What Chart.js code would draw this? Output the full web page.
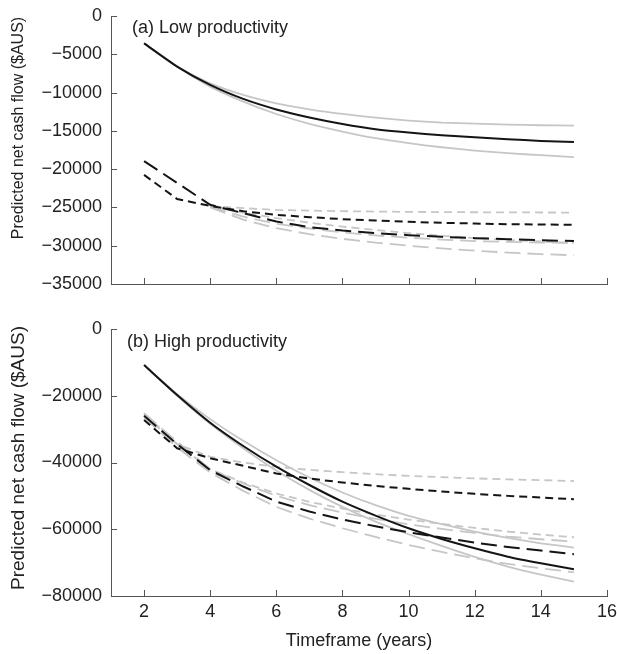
<!DOCTYPE html>
<html>
<head>
<meta charset="utf-8">
<script src="https://cdn.jsdelivr.net/npm/chart.js@4.4.0/dist/chart.umd.min.js"></script>
<style>
  body { margin: 0; background: #fff; }
  canvas { display: block; }
</style>
</head>
<body>
<canvas id="lowChart" width="617" height="300"></canvas>
<canvas id="highChart" width="617" height="354"></canvas>
<script>
// x values and ticks
const years = [2, 3, 4, 5, 6, 7, 8, 9, 10, 11, 12, 13, 14, 15];
const xTicks = [2, 4, 6, 8, 10, 12, 14, 16];
const lowTicks = [0, -5000, -10000, -15000, -20000, -25000, -30000, -35000];
const highTicks = [0, -20000, -40000, -60000, -80000];

// (a) Low productivity
const lowSolid   = [-3570, -6600, -9000, -10830, -12200, -13250, -14100, -14790, -15230, -15570, -15830, -16090, -16310, -16440];
const lowSolidHi = [-3570, -6600, -8800, -10300, -11400, -12180, -12790, -13270, -13660, -13920, -14050, -14180, -14270, -14320];
const lowSolidLo = [-3570, -6600, -9220, -11180, -12800, -14090, -15090, -15960, -16610, -17140, -17570, -17920, -18180, -18440];
const lowShort   = [-20750, -23900, -24800, -25500, -25970, -26270, -26530, -26710, -26880, -27010, -27100, -27190, -27230, -27280];
const lowLong    = [-18950, -21800, -24660, -25750, -26840, -27580, -28020, -28360, -28620, -28840, -29010, -29140, -29270, -29400];
const lowShortHi = [null, null, -24800, -25100, -25320, -25420, -25490, -25540, -25580, -25610, -25630, -25650, -25660, -25670];
const lowShortLo = [null, null, -24800, -25700, -26400, -27000, -27500, -27950, -28350, -28700, -29000, -29250, -29450, -29650];
const lowLongHi  = [null, null, -24900, -26200, -27140, -27750, -28250, -28650, -28950, -29200, -29400, -29500, -29580, -29650];
const lowLongLo  = [null, null, -25000, -26600, -27710, -28500, -29100, -29600, -30000, -30350, -30650, -30900, -31100, -31250];

// (b) High productivity
const highSolid   = [-10790, -19780, -28070, -35050, -41250, -46740, -51730, -55920, -59720, -62920, -65710, -68210, -70200, -72000];
const highSolidHi = [-10790, -19500, -27000, -33500, -39300, -44500, -49000, -52800, -56000, -58500, -60700, -62600, -64200, -65500];
const highSolidLo = [-10790, -20000, -28400, -35700, -42400, -48200, -53300, -57700, -61500, -65000, -68300, -71200, -73600, -75700];
const highShort   = [-27260, -35750, -38740, -41000, -43300, -44800, -46000, -47000, -47900, -48700, -49400, -50000, -50500, -51000];
const highLong    = [-26000, -34500, -42300, -47200, -51700, -54700, -57100, -59100, -60900, -62500, -64000, -65300, -66400, -67500];
const highShortHi = [-25260, -34500, -38300, -40000, -41300, -42200, -42900, -43500, -44000, -44400, -44750, -45050, -45300, -45540];
const highShortLo = [-25800, -34500, -42000, -46000, -49300, -51800, -53800, -55600, -57100, -58400, -59600, -60700, -61600, -62400];
const highLongHi  = [-25260, -33800, -42000, -46300, -50000, -52800, -55000, -56900, -58500, -59900, -61100, -62200, -63000, -63700];
const highLongLo  = [-26500, -35500, -43000, -48500, -53300, -56800, -59700, -62300, -64700, -66800, -68700, -70400, -71700, -72900];

const BLACK = '#141414';
const GREY = '#c6c6c6';
const AXIS = '#555555';
const TEXT = '#222222';
const FONT = '"Liberation Sans", Arial, Helvetica, sans-serif';
const SHORT = [8, 5];
const LONG = [16, 7];
const yTitle = 'Predicted net cash flow ($AUS)';

function series(vals, color, dash) {
    return {
        data: years.map((x, i) => ({ x: x, y: vals[i] })),
        borderColor: color,
        borderWidth: color === BLACK ? 2 : 1.8,
        borderDash: dash,
        pointRadius: 0,
        tension: dash.length ? 0 : 0.2,
        spanGaps: false
    };
}

const fmt = v => v < 0 ? '\u2212' + Math.abs(v) : String(v);

// inward ticks, panel label and y title
const panelDecor = {
    id: 'panelDecor',
    afterDraw(chart, args, opts) {
        const { ctx, chartArea: a, scales: { x, y } } = chart;
        ctx.save();
        ctx.strokeStyle = AXIS;
        ctx.lineWidth = 1;
        ctx.beginPath();
        x.ticks.forEach(t => {
            const px = Math.round(x.getPixelForValue(t.value)) + 0.5;
            ctx.moveTo(px, a.bottom);
            ctx.lineTo(px, a.bottom - 6);
        });
        y.ticks.forEach(t => {
            const py = Math.round(y.getPixelForValue(t.value)) + 0.5;
            ctx.moveTo(a.left, py);
            ctx.lineTo(a.left + 6, py);
        });
        ctx.stroke();

        ctx.fillStyle = TEXT;
        ctx.textBaseline = 'middle';
        ctx.textAlign = 'left';
        ctx.font = '18px ' + FONT;
        ctx.fillText(opts.label, opts.labelX, opts.labelY);

        ctx.translate(opts.titleX, opts.titleY);
        ctx.rotate(-Math.PI / 2);
        ctx.textAlign = 'center';
        ctx.font = opts.titleSize + 'px ' + FONT;
        ctx.fillText(yTitle, 0, 0);
        ctx.restore();
    }
};

function makeChart(id, cfg) {
    return new Chart(document.getElementById(id), {
        type: 'line',
        data: { datasets: cfg.datasets },
        options: {
            responsive: false,
            animation: false,
            devicePixelRatio: 1,
            layout: { padding: { top: cfg.top, right: 10, left: 0, bottom: 0 } },
            plugins: {
                legend: { display: false },
                tooltip: { enabled: false },
                panelDecor: cfg.decor
            },
            scales: {
                x: {
                    type: 'linear',
                    min: 1,
                    max: 16,
                    afterBuildTicks: s => { s.ticks = xTicks.map(v => ({ value: v })); },
                    afterFit: s => {
                        s.height = cfg.xHeight;
                        s.paddingLeft = 0;
                        s.paddingRight = 0;
                    },
                    grid: { display: false, drawTicks: false },
                    border: { display: true, color: AXIS, width: 1 },
                    ticks: {
                        display: cfg.xLabels,
                        color: TEXT,
                        padding: 5,
                        maxRotation: 0,
                        font: { family: FONT, size: 18 }
                    },
                    title: {
                        display: cfg.xLabels,
                        text: 'Timeframe (years)',
                        color: TEXT,
                        padding: { top: 0, bottom: 2 },
                        font: { family: FONT, size: 18 }
                    }
                },
                y: {
                    min: cfg.yTicks[cfg.yTicks.length - 1],
                    max: 0,
                    afterBuildTicks: s => { s.ticks = cfg.yTicks.map(v => ({ value: v })); },
                    afterFit: s => {
                        s.width = 111;
                        s.paddingTop = 0;
                        s.paddingBottom = 0;
                    },
                    grid: { display: false, drawTicks: false },
                    border: { display: true, color: AXIS, width: 1 },
                    ticks: {
                        color: TEXT,
                        padding: 9,
                        callback: fmt,
                        font: { family: FONT, size: 18 }
                    }
                }
            }
        },
        plugins: [panelDecor]
    });
}

makeChart('lowChart', {
    top: 16,
    xHeight: 16,
    xLabels: false,
    yTicks: lowTicks,
    decor: { label: '(a) Low productivity', labelX: 132, labelY: 28, titleX: 19, titleY: 128, titleSize: 16 },
    datasets: [
        series(lowSolid, BLACK, []),
        series(lowShort, BLACK, SHORT),
        series(lowLong, BLACK, LONG),
        series(lowSolidHi, GREY, []),
        series(lowSolidLo, GREY, []),
        series(lowShortHi, GREY, SHORT),
        series(lowShortLo, GREY, SHORT),
        series(lowLongHi, GREY, LONG),
        series(lowLongLo, GREY, LONG)
    ]
});

makeChart('highChart', {
    top: 29,
    xHeight: 58,
    xLabels: true,
    yTicks: highTicks,
    decor: { label: '(b) High productivity', labelX: 127, labelY: 42, titleX: 19, titleY: 158, titleSize: 19 },
    datasets: [
        series(highSolid, BLACK, []),
        series(highShort, BLACK, SHORT),
        series(highLong, BLACK, LONG),
        series(highSolidHi, GREY, []),
        series(highSolidLo, GREY, []),
        series(highShortHi, GREY, SHORT),
        series(highShortLo, GREY, SHORT),
        series(highLongHi, GREY, LONG),
        series(highLongLo, GREY, LONG)
    ]
});
</script>
</body>
</html>
